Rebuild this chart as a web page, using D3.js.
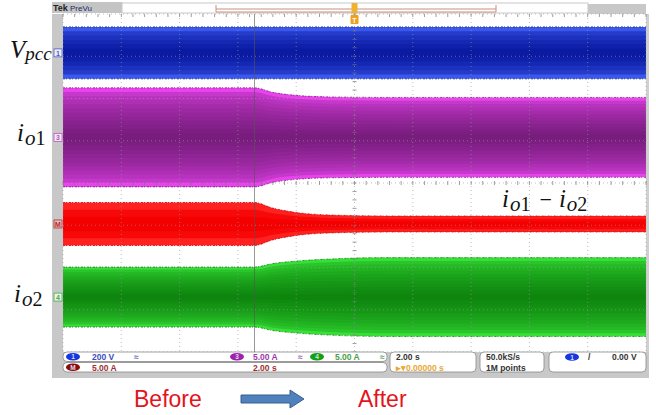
<!DOCTYPE html>
<html>
<head>
<meta charset="utf-8">
<style>
    body { margin: 0; background: #fff; }
    svg { display: block; }
    .mono { font-family: "Liberation Sans", Arial, sans-serif; font-weight: bold; font-size: 8.5px; }
    .math { font-family: "Liberation Serif", "DejaVu Serif", serif; }
</style>
</head>
<body>
<div id="chart-area"></div>
<script src="https://cdn.jsdelivr.net/npm/d3@7"></script>
<script>
    // time of each envelope reading, seconds relative to trigger
    var timeSec = [-10, -3.43, -2.81, -1.99, -0.86, 1.2, 10]
    // peak amplitude of each trace at those times
    var vpccAmp = [123, 123, 123, 123, 123, 123, 123]      // V
    var io1Amp = [5.86, 5.86, 5.33, 4.97, 4.79, 4.73, 4.73] // A
    var diffAmp = [2.54, 2.54, 1.89, 1.36, 1.07, 0.95, 0.95] // A
    var io2Amp = [3.55, 3.55, 3.96, 4.26, 4.50, 4.67, 4.67]  // A

    var channelIds = ["1", "3", "M", "4"]
    var unitsPerDiv = [200, 5, 5, 5]
    var positionDiv = [3.08, 1.08, -0.97, -2.70]
    var changeTime = -3.43
    var timePerDiv = 2

    var readoutScale = ["200 V", "5.00 A", "5.00 A", "5.00 A", "2.00 s"]
    var horizLabels = ["2.00 s", "\u25B8\u25BE0.00000 s"]
    var acqLabels = ["50.0kS/s", "1M points"]
    var trigLabel = "0.00 V"

    var W = 656, H = 415
    var plot = { left: 63, right: 646, top: 14, bottom: 352 }

    var svg = d3.select("#chart-area").append("svg").attr("width", W).attr("height", H)

    var x = d3.scaleLinear().domain([-5 * timePerDiv, 5 * timePerDiv]).range([plot.left, plot.right])
    var yDiv = d3.scaleLinear().domain([-4, 4]).range([plot.bottom, plot.top])

    // ---- top bar ----
    svg.append("rect").attr("x", 52).attr("y", 2).attr("width", 70).attr("height", 11).attr("fill", "#c4c4c4")
    svg.append("rect").attr("x", 122).attr("y", 3).attr("width", 466).attr("height", 10).attr("fill", "#fff").attr("stroke", "#c8c8c8")
    svg.append("rect").attr("x", 588).attr("y", 4).attr("width", 58).attr("height", 10).attr("fill", "#c8c8c8")
    svg.append("path").attr("d", "M216,5V12H496V5M216,9H496").attr("fill", "none").attr("stroke", "#c89080").attr("stroke-width", 1)
    svg.append("text").attr("x", 53).attr("y", 11).attr("class", "mono").style("font-size", "9px").attr("fill", "#222").text("Tek")
    svg.append("text").attr("x", 70).attr("y", 11).attr("class", "mono").style("font-weight", "normal").style("font-size", "8px").attr("fill", "#1a2a70").text("PreVu")

    // left gray strip
    svg.append("rect").attr("x", 52).attr("y", plot.top).attr("width", plot.left - 52).attr("height", plot.bottom - plot.top).attr("fill", "#c8c8c8")
    svg.append("rect").attr("x", plot.right).attr("y", plot.top).attr("width", 3).attr("height", plot.bottom - plot.top).attr("fill", "#d0d0d0")

    // ---- traces ----
    var traces = [
        { amp: vpccAmp, ch: 0, outer: "#3a58ec", inner: "#0a1aa2", n: 6, edge: "#0a1470" },
        { amp: io1Amp, ch: 1, outer: "#e844ec", inner: "#781c7e", n: 12, edge: "#6a1070" },
        { amp: diffAmp, ch: 2, outer: "#ff2020", inner: "#f40000", n: 3, edge: "#b00000" },
        { amp: io2Amp, ch: 3, outer: "#36e036", inner: "#0e860e", n: 12, edge: "#0c6a0c" }
    ]

    var traceG = svg.append("g")
    traces.forEach(function (tr) {
        var pos = positionDiv[tr.ch], upd = unitsPerDiv[tr.ch]
        var pts = timeSec.map(function (t, i) { return { t: t, a: tr.amp[i] / upd } })
        var mix = d3.interpolateRgb(tr.outer, tr.inner)
        d3.range(tr.n).forEach(function (k) {
            var f = 1 - k / tr.n
            var area = d3.area()
                .curve(d3.curveMonotoneX)
                .x(function (d) { return x(d.t) })
                .y0(function (d) { return yDiv(pos - d.a * f) })
                .y1(function (d) { return yDiv(pos + d.a * f) })
            traceG.append("path").datum(pts).attr("d", area).attr("fill", mix(Math.sqrt(k / (tr.n - 1 || 1))))
        })
        ;[1, -1].forEach(function (s) {
            var line = d3.line().curve(d3.curveMonotoneX)
                .x(function (d) { return x(d.t) })
                .y(function (d) { return yDiv(pos + s * d.a) })
            traceG.append("path").datum(pts).attr("d", line).attr("fill", "none")
                .attr("stroke", tr.edge).attr("stroke-width", 1).attr("stroke-dasharray", "2,1,1,2").attr("opacity", 0.7)
        })
    })

    // ---- graticule ----
    var grid = svg.append("g").attr("stroke", "#9a9a9a").attr("stroke-width", 1).attr("stroke-dasharray", "1,3").attr("opacity", 0.6)
    d3.range(-5, 6).forEach(function (i) {
        grid.append("line").attr("x1", x(i * timePerDiv)).attr("x2", x(i * timePerDiv)).attr("y1", plot.top).attr("y2", plot.bottom)
    })
    d3.range(-4, 5).forEach(function (i) {
        grid.append("line").attr("x1", plot.left).attr("x2", plot.right).attr("y1", yDiv(i)).attr("y2", yDiv(i))
    })
    var ticks = svg.append("g").attr("stroke", "#777").attr("stroke-width", 1).attr("opacity", 0.7)
    d3.range(-20, 21).forEach(function (i) {
        var yy = yDiv(i / 5)
        ticks.append("line").attr("x1", x(0) - 2).attr("x2", x(0) + 2).attr("y1", yy).attr("y2", yy)
    })
    d3.range(-25, 26).forEach(function (i) {
        var xx = x(i * timePerDiv / 5)
        ticks.append("line").attr("x1", xx).attr("x2", xx).attr("y1", yDiv(0) - 2).attr("y2", yDiv(0) + 2)
        ticks.append("line").attr("x1", xx).attr("x2", xx).attr("y1", plot.top).attr("y2", plot.top + 3)
    })

    // change point line
    svg.append("line").attr("x1", x(changeTime)).attr("x2", x(changeTime)).attr("y1", plot.top).attr("y2", plot.bottom)
        .attr("stroke", "#555").attr("stroke-width", 1).attr("opacity", 0.6)

    // trigger marker
    var tx = x(0)
    svg.append("rect").attr("x", tx - 3).attr("y", 3).attr("width", 6).attr("height", 10).attr("rx", 1).attr("fill", "#f0b030")
    svg.append("rect").attr("x", tx - 4).attr("y", 15).attr("width", 8).attr("height", 9).attr("rx", 1).attr("fill", "#f0a020")
    svg.append("text").attr("x", tx).attr("y", 23).attr("text-anchor", "middle").attr("class", "mono").style("font-size", "7px").attr("fill", "#fff").text("T")

    // channel markers
    var markerCol = ["#4a5ad0", "#c050c8", "#d02020", "#40b040"]
    channelIds.forEach(function (c, i) {
        var yy = yDiv(positionDiv[i])
        svg.append("rect").attr("x", 54).attr("y", yy - 4).attr("width", 8).attr("height", 8).attr("fill", i == 2 ? "none" : "#eee").attr("stroke", markerCol[i]).attr("stroke-width", 0.8)
        svg.append("text").attr("x", 58).attr("y", yy + 3).attr("text-anchor", "middle").attr("class", "mono").style("font-size", "7px").attr("fill", markerCol[i]).text(c)
    })

    // ---- bottom readout panel ----
    svg.append("rect").attr("x", 52).attr("y", plot.bottom).attr("width", plot.right + 3 - 52).attr("height", 26).attr("fill", "#c8c8c8")
    var boxes = [[63, 352, 324, 9.5], [63, 362.5, 324, 9.5], [390, 352, 86, 20], [480, 352, 64, 20], [549, 352, 97, 20]]
    boxes.forEach(function (b) {
        svg.append("rect").attr("x", b[0]).attr("y", b[1]).attr("width", b[2]).attr("height", b[3]).attr("rx", 4)
            .attr("fill", "#fff").attr("stroke", "#888").attr("stroke-width", 0.8)
    })
    function oval(cx, cy, col, lab) {
        svg.append("ellipse").attr("cx", cx).attr("cy", cy).attr("rx", 7).attr("ry", 3.8).attr("fill", col)
        svg.append("text").attr("x", cx).attr("y", cy + 2.5).attr("text-anchor", "middle").attr("class", "mono").style("font-size", "6.5px").attr("fill", "#dde").text(lab)
    }
    function label(xx, yy, col, s) {
        svg.append("text").attr("x", xx).attr("y", yy).attr("class", "mono").attr("fill", col).text(s)
    }
    oval(73, 356.8, "#1836e0", "1")
    label(92, 360, "#3c4cc0", readoutScale[0])
    label(134, 360, "#6070c0", "\u2248")
    oval(237, 356.8, "#a020b0", "3")
    label(253, 360, "#9a3aa8", readoutScale[1])
    label(298, 360, "#a060b0", "\u2248")
    oval(317, 356.8, "#14a014", "4")
    label(335, 360, "#48a048", readoutScale[2])
    label(380, 360, "#60a060", "\u2248")
    oval(73, 367.3, "#8a0a0a", "M")
    label(92, 370.5, "#a03030", readoutScale[3])
    label(253, 370.5, "#a03030", readoutScale[4])
    label(396, 360, "#333", horizLabels[0])
    label(396, 370.5, "#e8a830", horizLabels[1])
    label(486, 360, "#333", acqLabels[0])
    label(486, 370.5, "#333", acqLabels[1])
    oval(572, 357, "#1836e0", "1")
    label(588, 360, "#333", "/")
    label(612, 360, "#333", trigLabel)

    // ---- trace labels ----
    function mathLabel(xx, yy, parts) {
        var t = svg.append("text").attr("class", "math").attr("x", xx).attr("y", yy).attr("fill", "#111")
        parts.forEach(function (p) {
            t.append("tspan").text(p[0]).style("font-size", p[1] + "px")
                .style("font-style", p[2] ? "italic" : "normal").attr("dy", p[3] || 0).attr("dx", p[4] || 0)
        })
    }
    mathLabel(10, 58, [["V", 25, true], ["pcc", 19, true, 2]])
    mathLabel(17, 141, [["i", 25, true], ["o", 21, true, 4, 1], ["1", 20, false]])
    mathLabel(14, 302, [["i", 25, true], ["o", 21, true, 4, 1], ["2", 20, false]])
    mathLabel(502, 207, [["i", 25, true], ["o", 21, true, 4, 1], ["1", 20, false], ["\u2212", 22, false, -4, 9], ["i", 25, true, 0, 7], ["o", 21, true, 4, 1], ["2", 20, false]])

    // ---- before / after annotation ----
    svg.append("text").attr("x", 134).attr("y", 407).style("font-family", "Liberation Sans, Arial, sans-serif").style("font-size", "23px").attr("fill", "#e4141c").text("Before")
    svg.append("text").attr("x", 358).attr("y", 407).style("font-family", "Liberation Sans, Arial, sans-serif").style("font-size", "23px").attr("fill", "#e4141c").text("After")
    svg.append("path").attr("d", "M241,395H290V390L304,399L290,408V403H241Z").attr("fill", "#4f81bd").attr("stroke", "#3a5f8f").attr("stroke-width", 1)
</script>
</body>
</html>
